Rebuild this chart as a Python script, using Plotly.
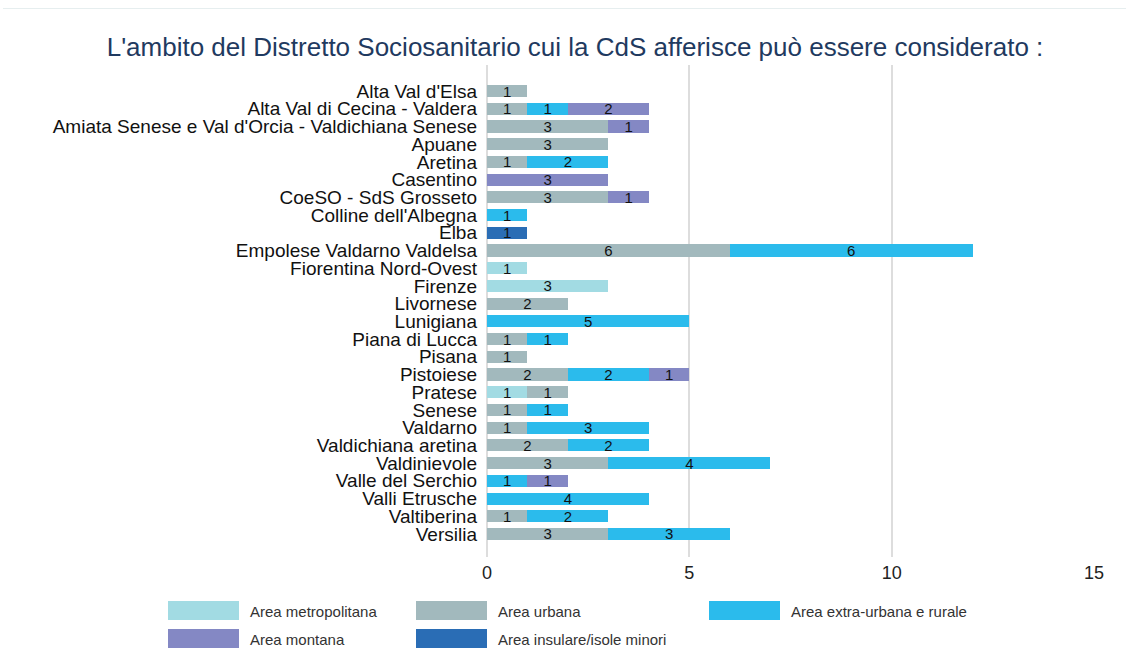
import plotly.graph_objects as go

categories = [
    "Alta Val d'Elsa", "Alta Val di Cecina - Valdera",
    "Amiata Senese e Val d'Orcia - Valdichiana Senese", "Apuane", "Aretina",
    "Casentino", "CoeSO - SdS Grosseto", "Colline dell'Albegna", "Elba",
    "Empolese Valdarno Valdelsa", "Fiorentina Nord-Ovest", "Firenze",
    "Livornese", "Lunigiana", "Piana di Lucca", "Pisana", "Pistoiese",
    "Pratese", "Senese", "Valdarno", "Valdichiana aretina", "Valdinievole",
    "Valle del Serchio", "Valli Etrusche", "Valtiberina", "Versilia",
]

series_names = ["Area metropolitana", "Area urbana", "Area extra-urbana e rurale",
                "Area montana", "Area insulare/isole minori"]

metropolitana = [0, 0, 0, 0, 0, 0, 0, 0, 0, 0, 1, 3, 0, 0, 0, 0, 0, 1, 0, 0, 0, 0, 0, 0, 0, 0]
urbana =        [1, 1, 3, 3, 1, 0, 3, 0, 0, 6, 0, 0, 2, 0, 1, 1, 2, 1, 1, 1, 2, 3, 0, 0, 1, 3]
extra_urbana =  [0, 1, 0, 0, 2, 0, 0, 1, 0, 6, 0, 0, 0, 5, 1, 0, 2, 0, 1, 3, 2, 4, 1, 4, 2, 3]
montana =       [0, 2, 1, 0, 0, 3, 1, 0, 0, 0, 0, 0, 0, 0, 0, 0, 1, 0, 0, 0, 0, 0, 1, 0, 0, 0]
insulare =      [0, 0, 0, 0, 0, 0, 0, 0, 1, 0, 0, 0, 0, 0, 0, 0, 0, 0, 0, 0, 0, 0, 0, 0, 0, 0]

x_ticks = [0, 5, 10, 15]

colors = ["#a2dbe3", "#a2b9bd", "#2bbbec", "#8488c4", "#2a6db5"]
FONT = "Liberation Sans, Arial, sans-serif"

series = [metropolitana, urbana, extra_urbana, montana, insulare]

fig = go.Figure()
for name, vals, col in zip(series_names, series, colors):
    fig.add_trace(go.Bar(
        y=categories, x=vals, name=name, orientation="h",
        marker=dict(color=col, line=dict(width=0)),
        text=[str(v) if v else "" for v in vals],
        textposition="inside", insidetextanchor="middle",
        constraintext="none", textangle=0,
        textfont=dict(family=FONT, size=15, color="#111111"),
        showlegend=False, hoverinfo="x+y",
    ))

W, H = 1126, 652
L, R, T, B = 487, 1094, 65, 557


def px_x(p):
    return (p - L) / (R - L)


def px_y(q):
    return (B - q) / (B - T)


shapes = [dict(type="line", xref="paper", yref="paper",
               x0=px_x(3), x1=px_x(1126), y0=px_y(8.5), y1=px_y(8.5),
               line=dict(color="#e6eeef", width=1))]
annotations = []

legend_pos = [(168, 601), (416, 601), (709, 601), (168, 629), (416, 629)]
for (lx, ly), name, col in zip(legend_pos, series_names, colors):
    shapes.append(dict(type="rect", xref="paper", yref="paper",
                       x0=px_x(lx), x1=px_x(lx + 71), y0=px_y(ly), y1=px_y(ly + 19),
                       fillcolor=col, line=dict(width=0)))
    annotations.append(dict(xref="paper", yref="paper", x=px_x(lx + 80), y=px_y(ly + 10),
                            text=name, showarrow=False, xanchor="left", yanchor="middle",
                            font=dict(family=FONT, size=15, color="#333333")))

fig.update_layout(
    barmode="stack",
    bargap=0.32,
    width=W, height=H,
    margin=dict(l=L, r=W - R, t=T, b=H - B, pad=0),
    paper_bgcolor="white", plot_bgcolor="white",
    title=dict(text="L'ambito del Distretto Sociosanitario cui la CdS afferisce può essere considerato :",
               x=575 / W, xref="container", xanchor="center",
               y=1 - 47 / H, yref="container", yanchor="middle",
               font=dict(family=FONT, size=26, color="#1f3a60")),
    font=dict(family=FONT),
    showlegend=False,
    shapes=shapes,
    annotations=annotations,
    xaxis=dict(range=[0, 15], tickvals=x_ticks, showgrid=True, gridcolor="#dddddd", gridwidth=2,
               zeroline=True, zerolinecolor="#dddddd", zerolinewidth=2, showline=False,
               ticks="", tickfont=dict(family=FONT, size=18, color="#222222"), ticklabelstandoff=3),
    yaxis=dict(range=[25 + 1.3, -1.47], type="category", tickmode="array",
               tickvals=categories, ticktext=categories,
               showgrid=False, zeroline=False, showline=False, ticks="", ticklabelstandoff=9,
               tickfont=dict(family=FONT, size=19, color="#111111")),
)

fig.write_html("out.html",
               config={"displayModeBar": False},
               post_script="document.body.style.margin='0';document.body.style.overflow='hidden';")
